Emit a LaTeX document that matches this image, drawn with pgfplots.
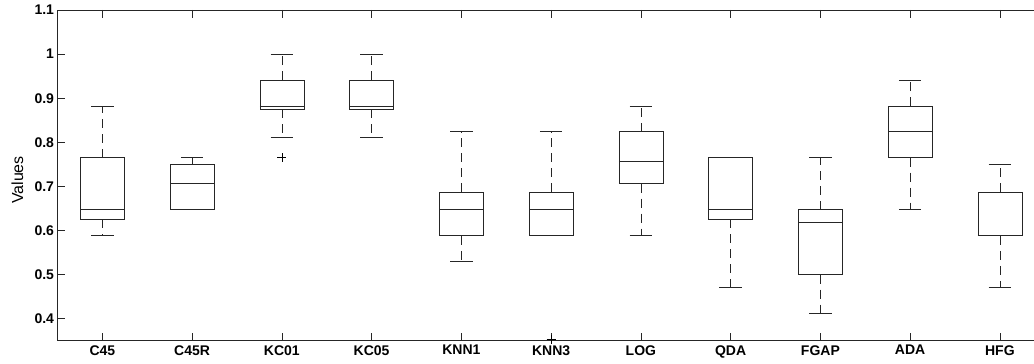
\documentclass[border=0pt]{standalone}
\usepackage{fontspec}
\setmainfont{Liberation Sans}
\usepackage{pgfplots}
\pgfplotsset{compat=1.18}
\usepgfplotslibrary{statistics}
\begin{document}
\begin{tikzpicture}
\begin{axis}[
  scale only axis,
  width=976.5pt, height=330.7pt,
  xmin=0.5, xmax=11.38,
  ymin=0.35, ymax=1.1,
  axis x line*=box, axis y line*=left,
  axis line style={-, line width=0.9pt, black!85},
  xtick={1,...,11},
  xticklabels={C45,C45R,KC01,KC05,KNN1,KNN3,LOG,QDA,FGAP,ADA,HFG},
  ytick={0.4,0.5,...,1.1},
  yticklabels={0.4,0.5,0.6,0.7,0.8,0.9,1,1.1},
  tick align=inside,
  xtick pos=both, ytick pos=left,
  major tick length=8pt,
  tick style={line width=0.7pt, black!85},
  /pgf/number format/assume math mode=true,
  ticklabel style={font=\fontsize{14}{16}\selectfont\bfseries},
  xticklabel style={yshift=-1pt},
  yticklabel style={xshift=0pt},
  every axis y label/.style={at={(axis description cs:-0.041,0.486)}, anchor=center, rotate=90, font=\fontsize{16}{18}\selectfont},
  ylabel={Values},
  boxplot/draw direction=y,
  boxplot/box extend=0.49,
  boxplot/whisker extend=0.25,
  boxplot/every box/.style={draw=black!85, line width=0.7pt},
  boxplot/every median/.style={draw=black!85, line width=0.7pt},
  boxplot/draw/lower whisker/.code={%
    \draw[black!85, line width=0.7pt, dash pattern=on 9pt off 6pt]
      (boxplot cs:\pgfplotsboxplotvalue{lower quartile}) -- (boxplot cs:\pgfplotsboxplotvalue{lower whisker});
    \draw[black!85, line width=0.7pt]
      (boxplot whisker cs:\pgfplotsboxplotvalue{lower whisker},0) -- (boxplot whisker cs:\pgfplotsboxplotvalue{lower whisker},1);
  },
  boxplot/draw/upper whisker/.code={%
    \draw[black!85, line width=0.7pt, dash pattern=on 9pt off 6pt]
      (boxplot cs:\pgfplotsboxplotvalue{upper quartile}) -- (boxplot cs:\pgfplotsboxplotvalue{upper whisker});
    \draw[black!85, line width=0.7pt]
      (boxplot whisker cs:\pgfplotsboxplotvalue{upper whisker},0) -- (boxplot whisker cs:\pgfplotsboxplotvalue{upper whisker},1);
  },
]
% C45
\addplot[black, mark=+, mark size=4.5pt, mark options={line width=0.7pt}, boxplot prepared={draw position=1,
  lower whisker=0.588, lower quartile=0.625, median=0.647, upper quartile=0.765, upper whisker=0.882}] coordinates {};
% C45R
\addplot[black, mark=+, mark size=4.5pt, mark options={line width=0.7pt}, boxplot prepared={draw position=2,
  lower whisker=0.647, lower quartile=0.647, median=0.706, upper quartile=0.750, upper whisker=0.765}] coordinates {};
% KC01
\addplot[black, mark=+, mark size=4.5pt, mark options={line width=0.7pt}, boxplot prepared={draw position=3,
  lower whisker=0.812, lower quartile=0.875, median=0.882, upper quartile=0.941, upper whisker=1.0}]
  table[row sep=\\, y index=0] {0.765\\};
% KC05
\addplot[black, mark=+, mark size=4.5pt, mark options={line width=0.7pt}, boxplot prepared={draw position=4,
  lower whisker=0.812, lower quartile=0.875, median=0.882, upper quartile=0.941, upper whisker=1.0}] coordinates {};
% KNN1
\addplot[black, mark=+, mark size=4.5pt, mark options={line width=0.7pt}, boxplot prepared={draw position=5,
  lower whisker=0.529, lower quartile=0.588, median=0.647, upper quartile=0.6875, upper whisker=0.824}] coordinates {};
% KNN3
\addplot[black, mark=+, mark size=4.5pt, mark options={line width=0.7pt}, boxplot prepared={draw position=6,
  lower whisker=0.588, lower quartile=0.588, median=0.647, upper quartile=0.6875, upper whisker=0.824}]
  table[row sep=\\, y index=0] {0.353\\};
% LOG
\addplot[black, mark=+, mark size=4.5pt, mark options={line width=0.7pt}, boxplot prepared={draw position=7,
  lower whisker=0.588, lower quartile=0.706, median=0.757, upper quartile=0.824, upper whisker=0.882}] coordinates {};
% QDA
\addplot[black, mark=+, mark size=4.5pt, mark options={line width=0.7pt}, boxplot prepared={draw position=8,
  lower whisker=0.471, lower quartile=0.625, median=0.647, upper quartile=0.765, upper whisker=0.765}] coordinates {};
% FGAP
\addplot[black, mark=+, mark size=4.5pt, mark options={line width=0.7pt}, boxplot prepared={draw position=9,
  lower whisker=0.411, lower quartile=0.500, median=0.618, upper quartile=0.647, upper whisker=0.765}] coordinates {};
% ADA
\addplot[black, mark=+, mark size=4.5pt, mark options={line width=0.7pt}, boxplot prepared={draw position=10,
  lower whisker=0.647, lower quartile=0.765, median=0.824, upper quartile=0.882, upper whisker=0.941}] coordinates {};
% HFG
\addplot[black, mark=+, mark size=4.5pt, mark options={line width=0.7pt}, boxplot prepared={draw position=11,
  lower whisker=0.471, lower quartile=0.588, median=0.588, upper quartile=0.6875, upper whisker=0.750}] coordinates {};
\end{axis}
\pgfresetboundingbox
\path ([xshift=-57.5pt,yshift=-23.3pt]current axis.south west) rectangle ([yshift=10pt]current axis.north east);
\end{tikzpicture}
\end{document}
